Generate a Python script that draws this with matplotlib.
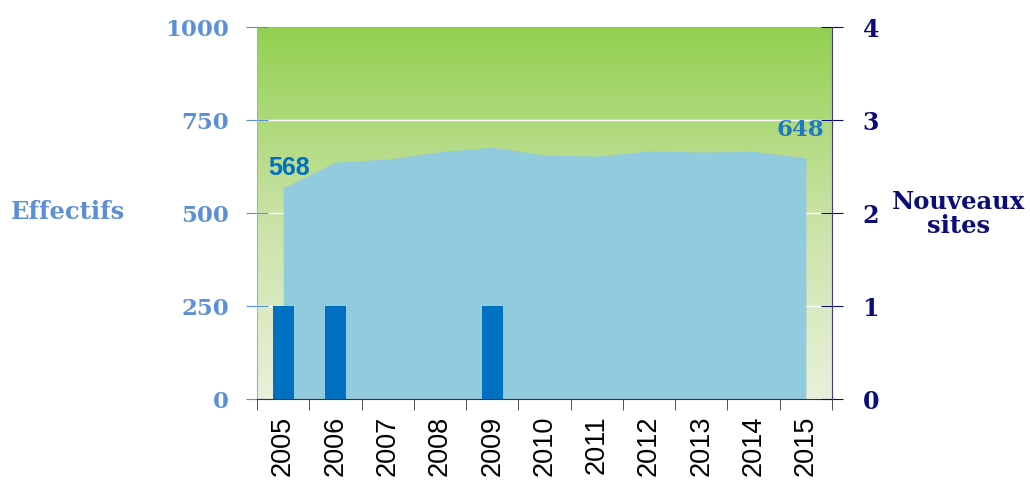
import numpy as np
import matplotlib
matplotlib.use("Agg")
import matplotlib.pyplot as plt
from matplotlib.colors import LinearSegmentedColormap

annees = ["2005", "2006", "2007", "2008", "2009", "2010",
          "2011", "2012", "2013", "2014", "2015"]
effectifs = [568, 637, 645, 665, 677, 656, 653, 667, 664, 666, 648]
nouveaux_sites = [1, 1, 0, 0, 1, 0, 0, 0, 0, 0, 0]

BLEU_CLAIR = "#5B8FD6"
MARINE = "#0B0B7A"
SERIF = "DejaVu Serif"

fig = plt.figure(figsize=(10.30, 4.84), dpi=100)
ax = fig.add_axes([0.2495, 0.1756, 0.5583, 0.7686])
x = np.arange(len(annees))

# fond en degrade vert
fond = LinearSegmentedColormap.from_list("fond", ["#EAF0DB", "#C9E2A4", "#92D050"])
grad = np.linspace(0, 1, 256).reshape(-1, 1)
ax.imshow(grad, cmap=fond, origin="lower", aspect="auto",
          extent=(-0.5, 10.5, 0, 1000), zorder=0)

ax.fill_between(x, effectifs, color="#92CBDD", lw=0, zorder=2)
for v in (250, 500, 750):
    ax.axhline(v, color="white", lw=1, zorder=1)

ax.set_xlim(-0.5, 10.5)
ax.set_ylim(0, 1000)
ax.set_yticks([0, 250, 500, 750, 1000])
ax.set_xticks(x)
ax.set_xticklabels(annees, rotation=90, fontsize=19.5, family="Liberation Sans")
ax.set_xticks(np.arange(-0.5, 11, 1), minor=True)
ax.tick_params(axis="x", which="major", length=0, pad=12)
ax.tick_params(axis="x", which="minor", direction="inout", length=16, color="#333333")
ax.tick_params(axis="y", direction="inout", length=16, color=BLEU_CLAIR,
               labelcolor=BLEU_CLAIR, pad=12)
for lab in ax.get_yticklabels():
    lab.set_family(SERIF)
    lab.set_fontweight("bold")
    lab.set_fontsize(16.5)

ax.spines["left"].set_color("#8DB4E2")
ax.spines["bottom"].set_color("#333333")
ax.spines["top"].set_visible(False)
ax.spines["right"].set_visible(False)

ax.annotate("568", (x[0], effectifs[0]), xytext=(4, 14), textcoords="offset points",
            ha="center", va="center", fontsize=18, fontweight="bold",
            family="Liberation Sans", color="#0070C0", zorder=5)
ax.annotate("648", (x[-1], effectifs[-1]), xytext=(-4, 20), textcoords="offset points",
            ha="center", va="center", fontsize=16.5, fontweight="bold",
            family=SERIF, color="#1F78C1", zorder=5)

# axe droit : nouveaux sites
ax2 = ax.twinx()
ax2.bar(x, nouveaux_sites, width=0.4, color="#0070C0", zorder=3)
ax2.set_ylim(0, 4)
ax2.set_yticks([0, 1, 2, 3, 4])
ax2.tick_params(axis="y", direction="inout", length=16, color=MARINE,
                labelcolor=MARINE, pad=14)
for lab in ax2.get_yticklabels():
    lab.set_family(SERIF)
    lab.set_fontweight("bold")
    lab.set_fontsize(17)
for s in ("left", "top", "bottom"):
    ax2.spines[s].set_visible(False)
ax2.spines["right"].set_color("#3C3C9C")

fig.text(0.066, 0.562, "Effectifs", ha="center", va="center", fontsize=17.5,
         fontweight="bold", family=SERIF, color=BLEU_CLAIR)
fig.text(0.931, 0.558, "Nouveaux\nsites", ha="center", va="center", fontsize=17.5,
         fontweight="bold", family=SERIF, color=MARINE, linespacing=1.0)

fig.savefig("out.png", dpi=100)
